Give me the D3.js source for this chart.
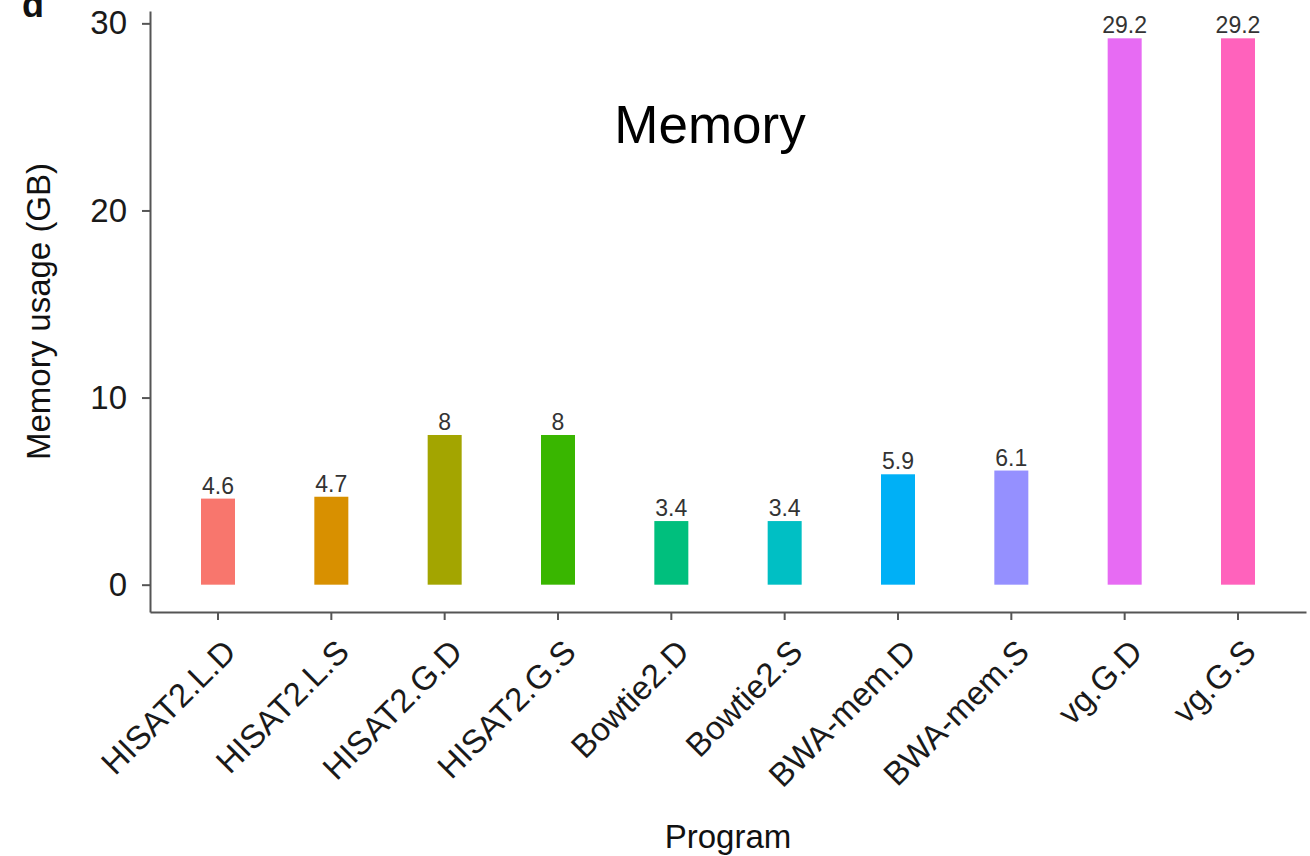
<!DOCTYPE html>
<html>
<head>
<meta charset="utf-8">
<script src="https://cdn.jsdelivr.net/npm/d3@7"></script>
<style>
  html, body { margin: 0; padding: 0; background: #ffffff; }
  svg { display: block; font-family: "Liberation Sans", Arial, Helvetica, sans-serif; }
</style>
</head>
<body>
<svg id="chart" width="1310" height="856"></svg>
<script>
// Peak memory usage per aligner configuration
const programs = ["HISAT2.L.D", "HISAT2.L.S", "HISAT2.G.D", "HISAT2.G.S", "Bowtie2.D",
                  "Bowtie2.S", "BWA-mem.D", "BWA-mem.S", "vg.G.D", "vg.G.S"];
const memoryGB = [4.6, 4.7, 8, 8, 3.4, 3.4, 5.9, 6.1, 29.2, 29.2];
const barColors = ["#F8766D", "#D89000", "#A3A500", "#39B600", "#00BF7D",
                   "#00BFC4", "#00B0F6", "#9590FF", "#E76BF3", "#FF62BC"];
const yTicks = [0, 10, 20, 30];

const panel = { left: 150, right: 1306, top: 11, bottom: 612 };
const svg = d3.select("#chart");

// Continuous y with 5% expansion on both ends of the data range
const yMax = d3.max(memoryGB);
const yPad = 0.05 * yMax;
const y = d3.scaleLinear()
  .domain([-yPad, yMax + yPad])
  .range([panel.bottom, panel.top]);

// Discrete x: bar width 0.3 of a step, 0.6 step from edges to first/last centres
const x = d3.scaleBand()
  .domain(programs)
  .range([panel.left, panel.right])
  .paddingInner(0.7)
  .paddingOuter(0.45);

const colour = d3.scaleOrdinal().domain(programs).range(barColors);

// Panel letter
svg.append("text")
  .attr("x", 22).attr("y", 17)
  .attr("font-size", 36).attr("font-weight", "bold")
  .attr("fill", "#111")
  .text("d");

// Bars
svg.append("g").selectAll("rect")
  .data(programs)
  .join("rect")
  .attr("x", d => x(d))
  .attr("width", x.bandwidth())
  .attr("y", (d, i) => y(memoryGB[i]))
  .attr("height", (d, i) => y(0) - y(memoryGB[i]))
  .attr("fill", d => colour(d));

// Value labels above bars
svg.append("g").selectAll("text")
  .data(programs)
  .join("text")
  .attr("x", d => x(d) + x.bandwidth() / 2)
  .attr("y", (d, i) => y(memoryGB[i]) - 5)
  .attr("text-anchor", "middle")
  .attr("font-size", 23)
  .attr("fill", "#333")
  .text((d, i) => String(memoryGB[i]));

// Y axis
const yAxis = svg.append("g")
  .attr("transform", `translate(${panel.left},0)`)
  .call(d3.axisLeft(y).tickValues(yTicks).tickSize(8).tickSizeOuter(0).tickPadding(15));
yAxis.select(".domain").attr("stroke", "#555").attr("stroke-width", 2);
yAxis.selectAll(".tick line").attr("stroke", "#555").attr("stroke-width", 2);
yAxis.selectAll(".tick text")
  .attr("font-size", 33)
  .attr("font-family", "Liberation Sans, Arial, sans-serif")
  .attr("fill", "#1a1a1a");

// X axis with rotated labels
const xAxis = svg.append("g")
  .attr("transform", `translate(0,${panel.bottom})`)
  .call(d3.axisBottom(x).tickSize(8).tickSizeOuter(0));
xAxis.select(".domain").attr("stroke", "#555").attr("stroke-width", 2);
xAxis.selectAll(".tick line").attr("stroke", "#555").attr("stroke-width", 2);
xAxis.selectAll(".tick text")
  .attr("x", 0).attr("y", 0).attr("dy", "0.72em")
  .attr("transform", "translate(3,25) rotate(-45)")
  .attr("text-anchor", "end")
  .attr("font-size", 33)
  .attr("font-family", "Liberation Sans, Arial, sans-serif")
  .attr("fill", "#1a1a1a");

// Axis titles
svg.append("text")
  .attr("transform", `translate(50,${(panel.top + panel.bottom) / 2}) rotate(-90)`)
  .attr("text-anchor", "middle")
  .attr("font-size", 33)
  .attr("fill", "#111")
  .text("Memory usage (GB)");

svg.append("text")
  .attr("x", (panel.left + panel.right) / 2)
  .attr("y", 848)
  .attr("text-anchor", "middle")
  .attr("font-size", 33)
  .attr("fill", "#111")
  .text("Program");

// In-panel title
svg.append("text")
  .attr("x", 710).attr("y", 143)
  .attr("text-anchor", "middle")
  .attr("font-size", 53)
  .attr("fill", "#000")
  .text("Memory");
</script>
</body>
</html>
